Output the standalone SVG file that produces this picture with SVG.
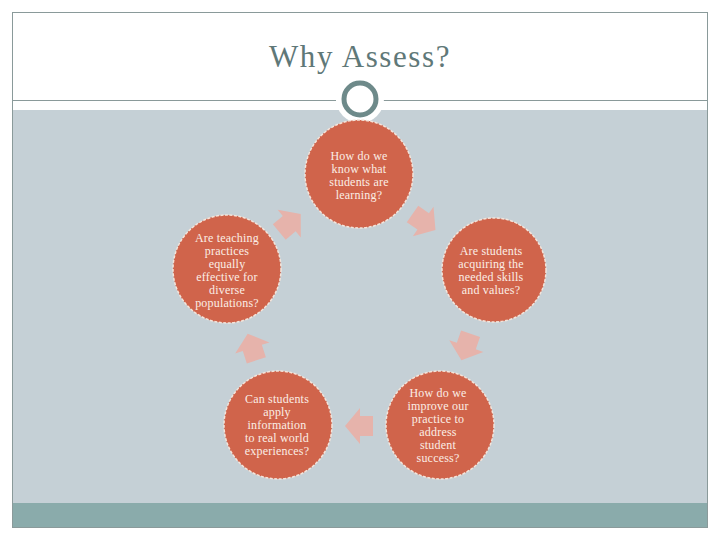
<svg xmlns="http://www.w3.org/2000/svg" width="720" height="540" viewBox="0 0 720 540">
<style>
.node{fill:#d0644b;stroke:#f4e4da;stroke-width:1.5;stroke-dasharray:3 1.5}
.lbl{font-family:"Liberation Serif","DejaVu Serif",serif;font-size:12px;fill:#fbeee6;text-anchor:middle;letter-spacing:0.2px}
.arr{fill:#e6b3ab}
.title{font-family:"Liberation Serif","DejaVu Serif",serif;font-size:31px;fill:#5f7878;text-anchor:middle;letter-spacing:1.6px}
</style>
<defs>
<path id="blk" d="M14,0 L-1,-18 L-1,-10 L-14,-10 L-14,10 L-1,10 L-1,18 Z"/>
</defs>
<rect x="0" y="0" width="720" height="540" fill="#ffffff"/>
<rect x="12" y="110" width="696" height="393" fill="#c5d0d6"/>
<rect x="12" y="503" width="696" height="24" fill="#8aabab"/>
<rect x="12.5" y="12.5" width="695" height="515" fill="none" stroke="#8a9a9a" stroke-width="1"/>
<line x1="12" y1="100.5" x2="336" y2="100.5" stroke="#8a9a9a" stroke-width="1"/>
<line x1="383" y1="100.5" x2="708" y2="100.5" stroke="#8a9a9a" stroke-width="1"/>
<circle cx="360" cy="99" r="24" fill="#ffffff"/>
<circle cx="360" cy="99" r="16" fill="#ffffff" stroke="#6e8a8a" stroke-width="5"/>
<text class="title" x="360" y="67">Why Assess?</text>
<g id="connectors" class="arr">
<use href="#blk" transform="translate(424,222) rotate(35)"/>
<use href="#blk" transform="translate(466,347) rotate(109)"/>
<use href="#blk" transform="translate(359,426) rotate(180)"/>
<use href="#blk" transform="translate(252,347) rotate(-108)"/>
<use href="#blk" transform="translate(290,223) rotate(-40)"/>
</g>
<g id="n-top">
<circle class="node" cx="359" cy="174" r="54"/>
<text class="lbl"><tspan x="359" y="160">How do we</tspan><tspan x="359" y="173">know what</tspan><tspan x="359" y="186">students are</tspan><tspan x="359" y="199">learning?</tspan></text>
</g>
<g id="n-right">
<circle class="node" cx="494" cy="270" r="52"/>
<text class="lbl"><tspan x="491" y="255">Are students</tspan><tspan x="491" y="268">acquiring the</tspan><tspan x="491" y="281">needed skills</tspan><tspan x="491" y="294">and values?</tspan></text>
</g>
<g id="n-botright">
<circle class="node" cx="440" cy="425" r="54"/>
<text class="lbl"><tspan x="438" y="397">How do we</tspan><tspan x="438" y="410">improve our</tspan><tspan x="438" y="423">practice to</tspan><tspan x="438" y="436">address</tspan><tspan x="438" y="449">student</tspan><tspan x="438" y="462">success?</tspan></text>
</g>
<g id="n-botleft">
<circle class="node" cx="278" cy="425" r="54"/>
<text class="lbl"><tspan x="277" y="403">Can students</tspan><tspan x="277" y="416">apply</tspan><tspan x="277" y="429">information</tspan><tspan x="277" y="442">to real world</tspan><tspan x="277" y="455">experiences?</tspan></text>
</g>
<g id="n-left">
<circle class="node" cx="227" cy="269" r="54"/>
<text class="lbl"><tspan x="227" y="242">Are teaching</tspan><tspan x="227" y="255">practices</tspan><tspan x="227" y="268">equally</tspan><tspan x="227" y="281">effective for</tspan><tspan x="227" y="294">diverse</tspan><tspan x="227" y="307">populations?</tspan></text>
</g>
</svg>
